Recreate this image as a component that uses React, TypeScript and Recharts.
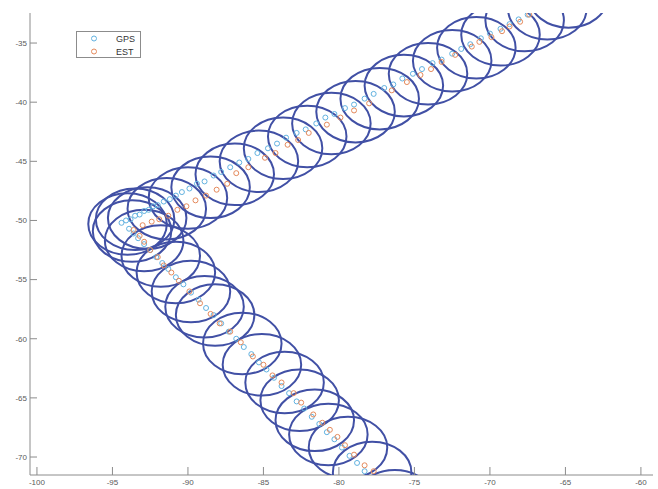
import { ScatterChart, Scatter, XAxis, YAxis } from "recharts";

const W = 658;
const H = 489;
const MARGIN = { top: 13, right: 5, bottom: 0, left: 0 };
const Y_AXIS_W = 30;
const X_AXIS_H = 14;

const X_DOMAIN: [number, number] = [-100.46, -59.2];
const Y_DOMAIN: [number, number] = [-71.52, -32.46];
const X_TICKS = [-100, -95, -90, -85, -80, -75, -70, -65, -60];
const Y_TICKS = [-70, -65, -60, -55, -50, -45, -40, -35];

const AXIS = "#8c8c8c";
const TEXT = "#5a5a5a";
const GPS_COLOR = "#62b2e0";
const EST_COLOR = "#e58a5c";
const CIRCLE_COLOR = "#4150a5";

// uncertainty circle radius, data units
const CIRCLE_R = 2.6;

// GPS fixes, [x, y]
const GPS_UPPER = [
  [-94.4, -50.2], [-94.1, -50.0], [-93.8, -49.9], [-93.5, -49.6], [-93.2, -49.5],
  [-92.9, -49.2], [-92.6, -49.1], [-92.3, -48.8], [-92.0, -48.7], [-91.6, -48.4],
  [-91.2, -48.2], [-90.8, -47.9], [-90.4, -47.6], [-89.9, -47.3], [-89.4, -46.9],
  [-88.9, -46.7], [-88.3, -46.2], [-87.8, -45.9], [-87.2, -45.5], [-86.6, -45.1],
  [-86.0, -44.8], [-85.4, -44.3], [-84.7, -43.9], [-84.1, -43.5], [-83.5, -43.0],
  [-82.8, -42.6], [-82.2, -42.3], [-81.5, -41.8], [-80.9, -41.3], [-80.3, -41.0],
  [-79.6, -40.5], [-79.0, -40.2], [-78.3, -39.7], [-77.7, -39.3], [-77.0, -38.8],
  [-76.4, -38.5], [-75.8, -38.0], [-75.1, -37.6], [-74.5, -37.2], [-73.8, -36.7],
  [-73.2, -36.4], [-72.5, -35.9], [-71.9, -35.5], [-71.3, -35.1], [-70.6, -34.6],
  [-70.0, -34.2], [-69.3, -33.8], [-68.7, -33.4], [-68.1, -33.0], [-67.5, -32.6],
  [-66.9, -32.2], [-66.3, -31.8],
];

const GPS_LOWER = [
  [-93.9, -50.7], [-93.6, -51.1], [-93.3, -51.5], [-92.9, -52.0], [-92.5, -52.5],
  [-92.1, -53.1], [-91.7, -53.6], [-91.3, -54.1], [-90.8, -54.8], [-90.3, -55.4],
  [-89.8, -56.1], [-89.3, -56.7], [-88.8, -57.4], [-88.3, -58.0], [-87.8, -58.7],
  [-87.3, -59.4], [-86.8, -60.0], [-86.3, -60.7], [-85.8, -61.3], [-85.3, -62.0],
  [-84.8, -62.6], [-84.3, -63.3], [-83.8, -64.0], [-83.3, -64.6], [-82.8, -65.3],
  [-82.3, -65.9], [-81.8, -66.6], [-81.3, -67.2], [-80.8, -67.9], [-80.3, -68.5],
  [-79.8, -69.2], [-79.3, -69.9], [-78.8, -70.5], [-78.3, -71.2], [-77.8, -71.8],
  [-77.3, -72.5],
];

// filter estimates, [x, y]
const EST_UPPER = [
  [-93.6, -50.8], [-93.0, -50.4], [-92.4, -50.1], [-91.9, -49.9], [-91.3, -49.6],
  [-90.7, -49.1], [-90.1, -48.8], [-89.5, -48.3], [-88.8, -47.9], [-88.1, -47.4],
  [-87.4, -46.9], [-86.8, -46.0], [-86.0, -45.5], [-84.9, -44.7], [-84.2, -44.3],
  [-83.4, -43.6], [-82.7, -43.2], [-82.0, -42.6], [-80.8, -41.9], [-79.9, -41.3],
  [-79.0, -40.7], [-78.0, -40.1], [-76.5, -39.0], [-75.5, -38.3], [-74.6, -37.7],
  [-73.9, -37.2], [-73.2, -36.6], [-72.3, -36.0], [-71.2, -35.3], [-70.7, -34.9],
  [-69.9, -34.5], [-69.2, -34.0], [-68.7, -33.6], [-68.0, -33.2], [-67.4, -32.6],
  [-66.7, -32.1], [-66.0, -31.6],
];

const EST_LOWER = [
  [-93.2, -51.3], [-92.9, -51.8], [-92.5, -52.5], [-92.0, -53.1], [-91.6, -53.8],
  [-91.1, -54.4], [-90.6, -55.1], [-89.9, -56.0], [-89.2, -57.0], [-88.5, -57.9],
  [-87.9, -58.7], [-87.2, -59.4], [-86.5, -60.3], [-85.7, -61.5], [-85.0, -62.2],
  [-84.4, -63.1], [-83.8, -63.7], [-83.0, -64.6], [-82.5, -65.4], [-81.7, -66.4],
  [-81.1, -67.1], [-80.6, -67.7], [-80.1, -68.3], [-79.6, -69.0], [-79.0, -69.8],
  [-78.3, -70.7], [-77.7, -71.2], [-77.1, -72.0],
];

// centres of the uncertainty circles, [x, y]
const CIRCLE_CENTERS = [
  [-94.0, -50.3], [-93.7, -50.9], [-93.5, -49.9],
  [-92.7, -49.8], [-91.4, -49.0], [-90.0, -48.1], [-88.5, -47.2], [-86.9, -46.1],
  [-85.3, -45.0], [-83.7, -43.9], [-82.1, -42.9], [-80.5, -41.8], [-78.9, -40.8],
  [-77.3, -39.7], [-75.7, -38.6], [-74.1, -37.6], [-72.5, -36.5], [-70.9, -35.4],
  [-69.3, -34.3], [-67.7, -33.1], [-66.2, -32.1], [-64.8, -31.1],
  [-92.9, -51.7], [-91.8, -53.0], [-90.8, -54.4], [-89.8, -56.0], [-88.9, -57.3],
  [-88.2, -58.0], [-86.4, -60.4], [-85.1, -62.2], [-83.6, -63.7], [-82.6, -65.2],
  [-81.6, -66.9], [-80.7, -68.1], [-79.4, -69.2], [-77.8, -71.3], [-76.3, -73.7],
];

const toPoints = (rows: number[][]) => rows.map(([x, y]) => ({ x, y }));

const gpsData = toPoints([...GPS_UPPER, ...GPS_LOWER]);
const estData = toPoints([...EST_UPPER, ...EST_LOWER]);
const circleData = toPoints(CIRCLE_CENTERS);

// pixels per data unit, same as the axes scale
const PLOT_W = W - MARGIN.left - MARGIN.right - Y_AXIS_W;
const PLOT_H = H - MARGIN.top - MARGIN.bottom - X_AXIS_H;
const RX = (CIRCLE_R * PLOT_W) / (X_DOMAIN[1] - X_DOMAIN[0]);
const RY = (CIRCLE_R * PLOT_H) / (Y_DOMAIN[1] - Y_DOMAIN[0]);

const marker = (color: string) => (props: any) => (
  <circle cx={props.cx} cy={props.cy} r={2.5} fill="none" stroke={color} strokeWidth={1} />
);

const ellipseShape = (props: any) => (
  <ellipse cx={props.cx} cy={props.cy} rx={RX} ry={RY} fill="none" stroke={CIRCLE_COLOR} strokeWidth={2} />
);

// MATLAB-style ticks pointing into the plot
const YTick = ({ x, y, payload }: any) => (
  <g>
    <line x1={x + 3} x2={x + 10} y1={y} y2={y} stroke={AXIS} />
    <text x={x} y={y} dy="0.35em" textAnchor="end" fontSize={8} fill={TEXT}>
      {payload.value}
    </text>
  </g>
);

const XTick = ({ x, y, payload }: any) => (
  <g>
    <line x1={x} x2={x} y1={y - 4} y2={y - 12} stroke={AXIS} />
    <text x={x} y={y} dy="0.71em" textAnchor="middle" fontSize={8} fill={TEXT}>
      {payload.value}
    </text>
  </g>
);

const LEGEND = [
  { name: "GPS", color: GPS_COLOR },
  { name: "EST", color: EST_COLOR },
];

export default function App() {
  return (
    <div
      style={{
        position: "absolute",
        left: 0,
        top: 0,
        width: W,
        height: H,
        background: "#fff",
        fontFamily: "'Liberation Sans', Arial, sans-serif",
      }}
    >
      <ScatterChart width={W} height={H} margin={MARGIN}>
        <XAxis
          type="number"
          dataKey="x"
          domain={X_DOMAIN}
          ticks={X_TICKS}
          interval={0}
          allowDataOverflow
          height={X_AXIS_H}
          tickSize={0}
          tickMargin={4}
          tick={<XTick />}
          axisLine={{ stroke: AXIS }}
        />
        <YAxis
          type="number"
          dataKey="y"
          domain={Y_DOMAIN}
          ticks={Y_TICKS}
          interval={0}
          allowDataOverflow
          width={Y_AXIS_W}
          tickSize={0}
          tickMargin={3}
          tick={<YTick />}
          axisLine={{ stroke: AXIS }}
        />
        <Scatter data={circleData} shape={ellipseShape} isAnimationActive={false} />
        <Scatter data={gpsData} shape={marker(GPS_COLOR)} isAnimationActive={false} />
        <Scatter data={estData} shape={marker(EST_COLOR)} isAnimationActive={false} />
      </ScatterChart>

      {/* Legend */}
      <div
        style={{
          position: "absolute",
          left: 76,
          top: 31,
          width: 65,
          height: 27,
          border: "1px solid #8c8c8c",
          background: "#fff",
          boxSizing: "border-box",
        }}
      >
        {LEGEND.map((item, i) => (
          <div
            key={item.name}
            style={{
              position: "absolute",
              left: 0,
              top: 1 + i * 13,
              height: 11,
              display: "flex",
              alignItems: "center",
              fontSize: 9,
              color: "#333",
            }}
          >
            <svg width={39} height={11}>
              <circle cx={17} cy={5.5} r={2.5} fill="none" stroke={item.color} strokeWidth={1} />
            </svg>
            <span>{item.name}</span>
          </div>
        ))}
      </div>
    </div>
  );
}
